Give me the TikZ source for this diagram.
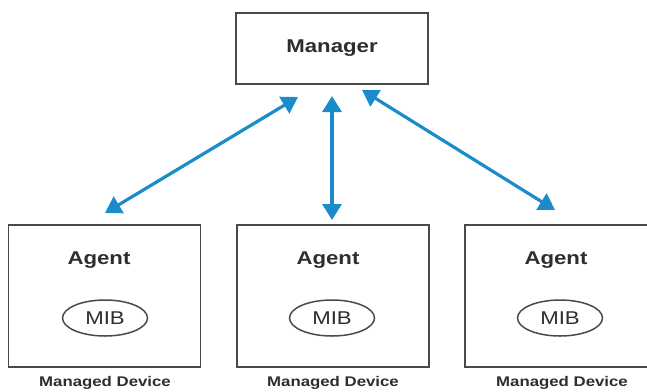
\documentclass[tikz,border=0pt]{standalone}
\usepackage{fontspec}
\setmainfont{Liberation Sans}[FakeStretch=1.2]
\usetikzlibrary{arrows.meta,shapes.geometric}
\definecolor{txt}{HTML}{2E2E2E}
\definecolor{edge}{HTML}{4A4A4A}
\definecolor{arrowblue}{HTML}{1A8CCC}
\begin{document}
\begin{tikzpicture}[x=1pt,y=-1pt,
  box/.style={draw=edge,line width=1.8pt,fill=white,minimum width=192pt,minimum height=142pt,inner sep=0pt},
  mgrbox/.style={draw=edge,line width=1.8pt,fill=white,minimum width=192pt,minimum height=71pt,inner sep=0pt,
    font=\fontsize{18.5}{20}\selectfont\bfseries,text=txt},
  agentlbl/.style={font=\fontsize{18.5}{20}\selectfont\bfseries,text=txt,inner sep=0pt},
  mib/.style={draw=edge,ellipse,line width=1.5pt,minimum width=85pt,minimum height=36pt,inner sep=0pt,
    font=\fontsize{18.5}{20}\selectfont,text=txt},
  devlbl/.style={font=\fontsize{14}{15}\selectfont\bfseries,text=txt,inner sep=0pt},
  link/.style={draw=arrowblue,line width=3.2pt,
    {Triangle[width=19pt,length=16pt]}-{Triangle[width=19pt,length=16pt]}}
]
\useasboundingbox (0,0) rectangle (647,391);
\clip (0,0) rectangle (647,391);
\node[mgrbox] (mgr) at (332,48.5) {Manager};
\node[box] (a1) at (104.5,296) {};
\node[box] (a2) at (333,296) {};
\node[box] (a3) at (561,296) {};
\node[agentlbl] (t1) at (99,260) {Agent};
\node[agentlbl] (t2) at (328,260) {Agent};
\node[agentlbl] (t3) at (556,260) {Agent};
\node[mib] (m1) at (105,318) {MIB};
\node[mib] (m2) at (332,318) {MIB};
\node[mib] (m3) at (560,318) {MIB};
\node[devlbl] (d1) at (105,383) {Managed Device};
\node[devlbl] (d2) at (333,383) {Managed Device};
\node[devlbl] (d3) at (562,383) {Managed Device};
\coordinate (s1) at (298,97);
\coordinate (e1) at (105,213);
\coordinate (s2) at (332,96);
\coordinate (e2) at (332,220);
\coordinate (s3) at (362,90);
\coordinate (e3) at (555,210);
\draw[link] (s1) -- (e1);
\draw[link] (s2) -- (e2);
\draw[link] (s3) -- (e3);
\end{tikzpicture}
\end{document}
